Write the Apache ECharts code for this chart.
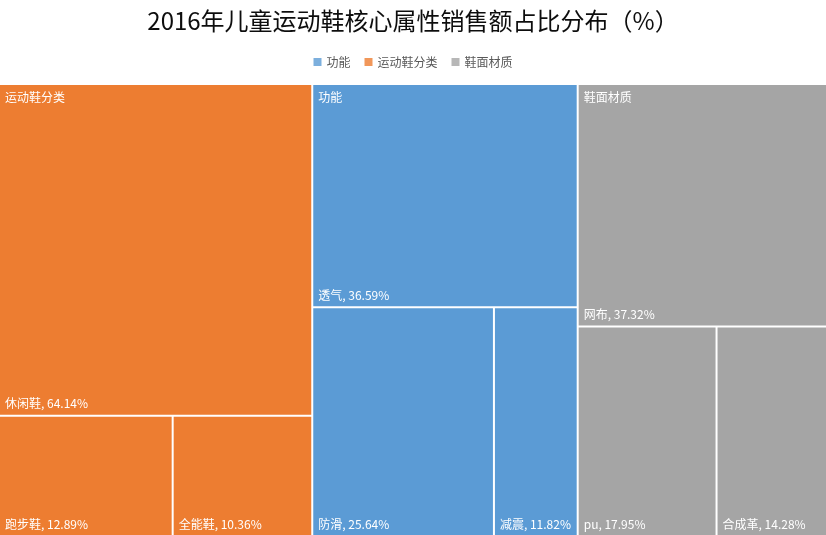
<!DOCTYPE html>
<html>
<head>
<meta charset="utf-8">
<script src="https://cdn.jsdelivr.net/npm/echarts@6/dist/echarts.min.js"></script>
<style>html,body{margin:0;padding:0;background:#fff;}#c{width:826px;height:535px;}</style>
</head>
<body>
<div id="c"></div>
<script>
const titleText = '2016年儿童运动鞋核心属性销售额占比分布（%）';
const groupNames = ['运动鞋分类', '功能', '鞋面材质'];
const groupColors = ['#ED7D31', '#5B9BD5', '#A5A5A5'];
const legendOrder = ['功能', '运动鞋分类', '鞋面材质'];
const shoeTypes = ['休闲鞋', '跑步鞋', '全能鞋'];
const shoeTypeValues = [64.14, 12.89, 10.36];
const functions = ['透气', '防滑', '减震'];
const functionValues = [36.59, 25.64, 11.82];
const materials = ['网布', 'pu', '合成革'];
const materialValues = [37.32, 17.95, 14.28];

const groupChildren = [
  [shoeTypes, shoeTypeValues],
  [functions, functionValues],
  [materials, materialValues]
];

const FONT = '"Noto Sans CJK SC", "Microsoft YaHei", sans-serif';
const CLEAR = 'rgba(0,0,0,0)';

function buildTree(clear) {
  return groupNames.map((g, i) => {
    const [names, vals] = groupChildren[i];
    const maxVal = Math.max.apply(null, vals);
    return {
      name: g,
      itemStyle: clear ? { color: CLEAR, borderColor: CLEAR } : { color: groupColors[i] },
      children: names.map((n, j) => ({
        name: n,
        value: vals[j],
        isTop: vals[j] === maxVal,
        groupName: g,
        itemStyle: clear ? { color: CLEAR, borderColor: CLEAR } : { color: groupColors[i] }
      }))
    };
  });
}

const commonTreemap = {
  type: 'treemap',
  left: 0, right: 0, top: 85, bottom: 0,
  squareRatio: 1,
  roam: false,
  nodeClick: false,
  silent: true,
  breadcrumb: { show: false },
  emphasis: { disabled: true },
  upperLabel: { show: false }
};

const chart = echarts.init(document.getElementById('c'), null, { renderer: 'canvas' });
chart.setOption({
  animation: false,
  textStyle: { fontFamily: FONT },
  title: {
    text: titleText,
    left: 'center',
    top: 4,
    textStyle: { fontSize: 24, fontWeight: 'normal', color: '#0d0d0d', fontFamily: FONT }
  },
  legend: {
    data: legendOrder,
    top: 51,
    left: 'center',
    icon: 'rect',
    itemWidth: 8,
    itemHeight: 8,
    itemGap: 14,
    textStyle: { fontSize: 12, color: '#595959', fontFamily: FONT }
  },
  grid: { left: -10, top: -10, width: 1, height: 1, show: false },
  xAxis: { show: false, type: 'value' },
  yAxis: { show: false, type: 'value' },
  color: [groupColors[1], groupColors[0], groupColors[2]],
  series: [
    { name: legendOrder[0], type: 'scatter', data: [], itemStyle: { color: groupColors[1] } },
    { name: legendOrder[1], type: 'scatter', data: [], itemStyle: { color: groupColors[0] } },
    { name: legendOrder[2], type: 'scatter', data: [], itemStyle: { color: groupColors[2] } },
    Object.assign({}, commonTreemap, {
      z: 2,
      label: {
        show: true,
        position: 'insideBottomLeft',
        formatter: '{b}, {c}%',
        color: '#fff',
        fontSize: 12,
        fontFamily: FONT,
        padding: [0, 0, 5, 5]
      },
      levels: [
        { itemStyle: { borderColor: '#fff', borderWidth: 0, gapWidth: 2 } },
        { itemStyle: { borderColor: '#fff', borderWidth: 0, gapWidth: 2 } },
        { itemStyle: { borderWidth: 0 } }
      ],
      data: buildTree(false)
    }),
    Object.assign({}, commonTreemap, {
      z: 3,
      label: {
        show: true,
        position: 'insideTopLeft',
        formatter: function (p) { return p.data && p.data.isTop ? p.data.groupName : ''; },
        color: '#fff',
        fontSize: 12,
        fontFamily: FONT,
        padding: [6, 0, 0, 5]
      },
      levels: [
        { itemStyle: { color: CLEAR, borderColor: CLEAR, borderWidth: 0, gapWidth: 2 } },
        { itemStyle: { color: CLEAR, borderColor: CLEAR, borderWidth: 0, gapWidth: 2 } },
        { itemStyle: { color: CLEAR, borderColor: CLEAR, borderWidth: 0 } }
      ],
      data: buildTree(true)
    })
  ]
});
</script>
</body>
</html>
